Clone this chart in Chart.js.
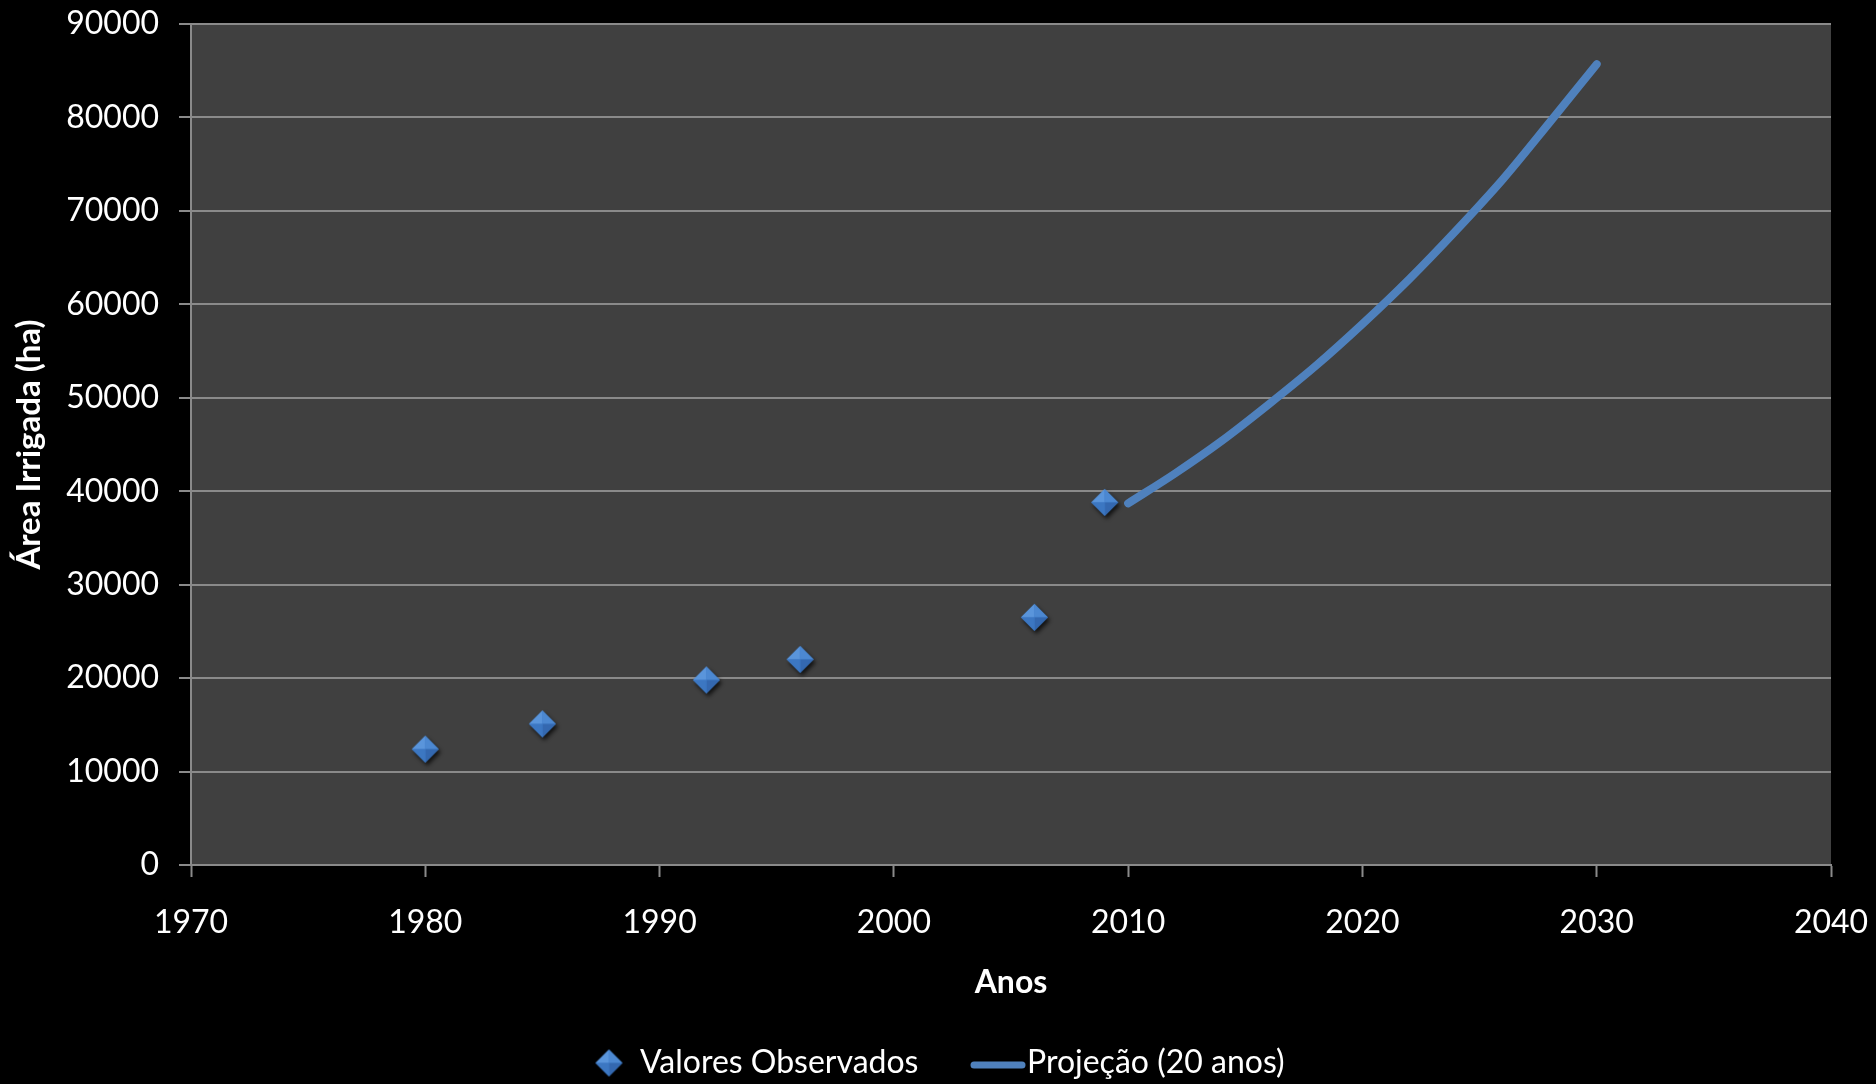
<!DOCTYPE html>
<html>
<head>
<meta charset="utf-8">
<title>Área Irrigada (ha)</title>
<script src="https://cdn.jsdelivr.net/npm/chart.js@4/dist/chart.umd.min.js"></script>
<style>
  html, body { margin: 0; padding: 0; background: #000; }
  #wrap { width: 1876px; height: 1084px; }
</style>
</head>
<body>
<div id="wrap"><canvas id="chart" width="1876" height="1084"></canvas></div>
<script>
// Observed irrigated area (ha) by year
const obsYears = [1980, 1985, 1992, 1996, 2006, 2009];
const obsArea  = [12400, 15100, 19800, 22000, 26500, 38800];

// 20-year projection (ha)
const projYears = [2010, 2012, 2014, 2016, 2018, 2020, 2022, 2024, 2026, 2028, 2030];
const projArea  = [38700, 41900, 45400, 49300, 53400, 57900, 62700, 67900, 73400, 79500, 85700];

// Axis ranges
const xRange = [1970, 2040];
const xStep = 10;
const yRange = [0, 90000];
const yStep = 10000;

const seriesNames = ['Valores Observados', 'Projeção (20 anos)'];

const BLUE = '#4f81bd';
const GRID = '#8a8a8a';
const FONT = 'Lato, "Open Sans", sans-serif';

// Bevelled diamond marker with a soft drop shadow
function makeDiamond(r) {
  const pad = 7;
  const size = Math.ceil(2 * r + 2 * pad);
  const c = document.createElement('canvas');
  c.width = size; c.height = size;
  const g = c.getContext('2d');
  const cx = size / 2, cy = size / 2;
  const pts = [[cx, cy - r], [cx + r, cy], [cx, cy + r], [cx - r, cy]];
  g.save();
  g.shadowColor = 'rgba(0,0,0,0.75)';
  g.shadowBlur = 4;
  g.shadowOffsetX = 2;
  g.shadowOffsetY = 3;
  g.beginPath();
  pts.forEach((p, i) => i ? g.lineTo(p[0], p[1]) : g.moveTo(p[0], p[1]));
  g.closePath();
  g.fillStyle = '#3b78c4';
  g.fill();
  g.restore();
  const facets = [
    [pts[3], pts[0], '#5a95db'],
    [pts[0], pts[1], '#4c88d1'],
    [pts[1], pts[2], '#3468b0'],
    [pts[2], pts[3], '#3c77c2']
  ];
  facets.forEach(([a, b, col]) => {
    g.beginPath();
    g.moveTo(cx, cy);
    g.lineTo(a[0], a[1]);
    g.lineTo(b[0], b[1]);
    g.closePath();
    g.fillStyle = col;
    g.fill();
  });
  return c;
}
const diamond = makeDiamond(13.5);

const plotBackground = {
  id: 'plotBackground',
  beforeDraw(chart) {
    const { ctx, chartArea: a } = chart;
    ctx.save();
    ctx.fillStyle = '#000';
    ctx.fillRect(0, 0, chart.width, chart.height);
    ctx.fillStyle = '#404040';
    ctx.fillRect(a.left, a.top, a.right - a.left, a.bottom - a.top);
    ctx.restore();
  }
};

// Legend row under the axis title
const bottomLegend = {
  id: 'bottomLegend',
  afterDraw(chart) {
    const { ctx } = chart;
    const y = 1063;
    ctx.save();
    ctx.drawImage(diamond, 609 - diamond.width / 2, y - diamond.height / 2);
    ctx.fillStyle = '#fff';
    ctx.font = '32px ' + FONT;
    ctx.textBaseline = 'middle';
    ctx.textAlign = 'left';
    ctx.fillText(seriesNames[0], 640, y);
    ctx.strokeStyle = BLUE;
    ctx.lineWidth = 7;
    ctx.lineCap = 'round';
    ctx.beginPath();
    ctx.moveTo(974, y + 2);
    ctx.lineTo(1022, y + 2);
    ctx.stroke();
    ctx.fillText(seriesNames[1], 1027, y);
    ctx.restore();
  }
};

const toPoints = (xs, ys) => xs.map((x, i) => ({ x, y: ys[i] }));

new Chart(document.getElementById('chart'), {
  type: 'scatter',
  data: {
    datasets: [
      {
        label: seriesNames[0],
        data: toPoints(obsYears, obsArea),
        pointStyle: diamond,
        pointRadius: 14,
        backgroundColor: BLUE,
        borderColor: BLUE,
        showLine: false
      },
      {
        label: seriesNames[1],
        data: toPoints(projYears, projArea),
        showLine: true,
        borderColor: BLUE,
        borderWidth: 8,
        borderCapStyle: 'round',
        borderJoinStyle: 'round',
        cubicInterpolationMode: 'monotone',
        pointRadius: 0,
        pointHoverRadius: 0
      }
    ]
  },
  options: {
    responsive: false,
    animation: false,
    events: [],
    layout: { autoPadding: false, padding: { left: 0, top: 24, right: 45, bottom: 69 } },
    plugins: {
      legend: { display: false },
      tooltip: { enabled: false }
    },
    scales: {
      x: {
        type: 'linear',
        position: 'bottom',
        min: xRange[0],
        max: xRange[1],
        afterFit(s) {
          s.height = 150;
          s.paddingLeft = 0; s.paddingRight = 0;
          s.paddingTop = 0; s.paddingBottom = 0;
        },
        ticks: {
          stepSize: xStep,
          color: '#fff',
          padding: 26,
          font: { family: FONT, size: 32 },
          callback: v => String(v),
          maxRotation: 0
        },
        grid: {
          drawOnChartArea: false,
          drawTicks: true,
          tickLength: 12,
          tickColor: GRID,
          tickWidth: 2,
          color: GRID
        },
        border: { color: GRID, width: 2 },
        title: {
          display: true,
          text: 'Anos',
          color: '#fff',
          font: { family: FONT, size: 32, weight: 'bold' },
          padding: { top: 0, bottom: 13 }
        }
      },
      y: {
        min: yRange[0],
        max: yRange[1],
        afterFit(s) {
          s.width = 191;
          s.paddingLeft = 0; s.paddingRight = 0;
          s.paddingTop = 0; s.paddingBottom = 0;
        },
        ticks: {
          stepSize: yStep,
          color: '#fff',
          padding: 20,
          font: { family: FONT, size: 32 },
          callback: v => String(v)
        },
        grid: {
          color: GRID,
          lineWidth: 2,
          drawTicks: true,
          tickLength: 12,
          tickColor: GRID,
          tickWidth: 2
        },
        border: { color: GRID, width: 2 },
        title: {
          display: true,
          text: 'Área Irrigada (ha)',
          color: '#fff',
          font: { family: FONT, size: 33, weight: 'bold' },
          padding: { top: 10, bottom: 0 }
        }
      }
    }
  },
  plugins: [plotBackground, bottomLegend]
});
</script>
</body>
</html>
